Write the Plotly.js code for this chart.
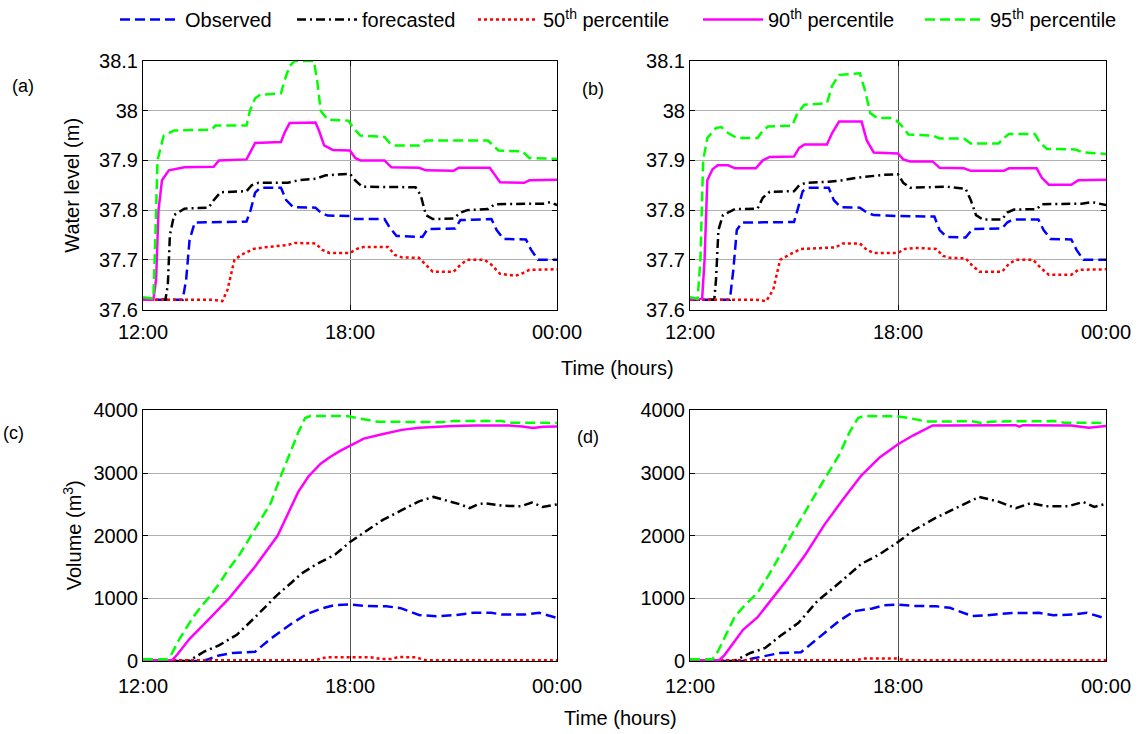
<!DOCTYPE html>
<html>
<head>
<meta charset="utf-8">
<script src="https://cdn.plot.ly/plotly-3.0.1.min.js"></script>
<style>html,body{margin:0;padding:0;background:#fff;} #chart{width:1138px;height:734px;}</style>
</head>
<body>
<div id="chart"></div>
<script>
// ---------- Tick labels ----------
const timeTickVals = [12, 18, 24];
const timeTickText = ["12:00", "18:00", "00:00"];
const levelTickVals = [37.6, 37.7, 37.8, 37.9, 38.0, 38.1];
const levelTickText = ["37.6", "37.7", "37.8", "37.9", "38", "38.1"];
const volTickVals = [0, 1000, 2000, 3000, 4000];

const seriesNames = ["Observed", "forecasted", "50<sup>th</sup> percentile", "90<sup>th</sup> percentile", "95<sup>th</sup> percentile"];

// ---------- Panel (a): water level ----------
const aObsT = [12,13.15,13.25,13.35,13.5,15.0,15.12,15.25,15.4,16.0,16.15,16.35,17.0,17.15,17.35,18.0,18.15,19.0,19.15,19.35,20.1,20.25,21.05,21.2,22.1,22.25,22.45,23.1,23.25,23.45,24];
const aObsV = [37.62,37.62,37.66,37.74,37.775,37.777,37.8,37.835,37.845,37.845,37.82,37.806,37.805,37.795,37.789,37.788,37.782,37.782,37.765,37.748,37.746,37.762,37.763,37.78,37.782,37.76,37.742,37.741,37.72,37.7,37.7];
const aFcT = [12,12.65,12.72,12.78,12.9,13.2,13.9,14.05,14.25,15.0,15.15,15.35,16.2,16.5,17.0,17.3,18.0,18.15,18.35,19.9,20.05,20.2,20.4,21.0,21.2,21.4,22.0,22.2,23.6,23.8,24];
const aFcV = [37.62,37.62,37.65,37.75,37.79,37.803,37.805,37.82,37.836,37.838,37.85,37.855,37.855,37.86,37.863,37.87,37.873,37.86,37.847,37.846,37.83,37.79,37.782,37.783,37.795,37.8,37.802,37.812,37.813,37.816,37.81];
const aP50T = [12,14.0,14.3,14.45,14.65,14.85,15.2,15.5,16.2,16.4,17.0,17.2,17.4,18.0,18.2,18.4,19.1,19.3,19.5,20.0,20.2,20.4,21.0,21.2,21.4,21.9,22.1,22.35,22.8,23.0,23.2,24];
const aP50V = [37.62,37.62,37.617,37.64,37.7,37.71,37.722,37.725,37.73,37.734,37.733,37.72,37.714,37.714,37.722,37.726,37.726,37.71,37.705,37.704,37.69,37.676,37.676,37.69,37.7,37.7,37.69,37.672,37.668,37.673,37.68,37.681];
const aP90T = [12,12.3,12.38,12.45,12.55,12.75,13.2,14.05,14.2,15.0,15.1,15.25,16.0,16.1,16.25,17.0,17.1,17.25,17.5,18.0,18.15,18.3,19.0,19.2,20.0,20.2,21.0,21.15,22.05,22.2,22.35,23.05,23.2,24];
const aP90V = [37.62,37.62,37.66,37.8,37.86,37.88,37.886,37.887,37.9,37.902,37.915,37.935,37.937,37.955,37.975,37.976,37.96,37.93,37.921,37.92,37.905,37.9,37.9,37.886,37.885,37.88,37.879,37.885,37.885,37.87,37.856,37.855,37.86,37.861];
const aP95T = [12,12.3,12.36,12.42,12.6,12.9,14.0,14.1,15.0,15.1,15.25,15.4,16.0,16.1,16.25,16.4,16.95,17.05,17.15,17.35,17.95,18.1,18.3,19.0,19.15,19.3,20.0,20.2,22.0,22.15,22.3,23.0,23.2,24];
const aP95V = [37.625,37.622,37.75,37.9,37.95,37.96,37.962,37.97,37.97,38.0,38.025,38.032,38.035,38.06,38.09,38.1,38.1,38.06,38.0,37.982,37.98,37.965,37.95,37.947,37.935,37.93,37.93,37.94,37.94,37.93,37.92,37.918,37.905,37.903];

// ---------- Panel (b): water level ----------
const bObsT = [12,13.15,13.25,13.35,13.5,15.0,15.1,15.25,15.4,16.0,16.15,16.35,16.9,17.1,17.3,18.0,19.05,19.2,19.4,19.95,20.15,21.0,21.15,21.3,22.05,22.2,22.4,23.0,23.15,23.35,24];
const bObsV = [37.62,37.62,37.68,37.76,37.775,37.776,37.8,37.838,37.845,37.845,37.82,37.806,37.805,37.795,37.79,37.788,37.787,37.76,37.746,37.745,37.762,37.763,37.775,37.781,37.781,37.76,37.742,37.741,37.72,37.7,37.7];
const bFcT = [12,12.7,12.75,12.82,12.95,13.3,13.95,14.1,14.3,15.0,15.15,15.35,16.0,16.4,16.8,17.2,17.6,18.0,18.15,18.35,19.4,19.95,20.1,20.25,20.45,21.0,21.15,21.35,22.0,22.15,23.3,23.6,24];
const bFcV = [37.62,37.62,37.66,37.76,37.79,37.802,37.803,37.825,37.837,37.838,37.85,37.855,37.857,37.86,37.865,37.868,37.871,37.872,37.855,37.845,37.847,37.843,37.82,37.79,37.781,37.781,37.795,37.801,37.802,37.812,37.813,37.816,37.81];
const bP50T = [12,13.9,14.2,14.4,14.6,14.85,15.2,16.2,16.4,16.9,17.1,17.3,18.0,18.2,18.5,19.1,19.3,19.5,19.95,20.15,20.35,21.0,21.2,21.4,21.9,22.1,22.35,23.0,23.2,24];
const bP50V = [37.62,37.62,37.617,37.64,37.7,37.71,37.722,37.725,37.733,37.733,37.72,37.714,37.714,37.722,37.724,37.722,37.708,37.704,37.703,37.688,37.676,37.676,37.692,37.7,37.7,37.685,37.67,37.67,37.68,37.681];
const bP90T = [12,12.35,12.42,12.5,12.65,12.8,13.1,13.3,13.9,14.1,14.3,15.0,15.15,15.3,15.95,16.1,16.3,16.95,17.1,17.3,18.0,18.15,18.35,19.0,19.2,19.9,20.1,21.05,21.2,22.0,22.15,22.35,23.0,23.2,24];
const bP90V = [37.62,37.622,37.7,37.86,37.882,37.89,37.89,37.884,37.884,37.9,37.907,37.908,37.925,37.932,37.932,37.955,37.978,37.978,37.94,37.916,37.914,37.902,37.898,37.898,37.885,37.884,37.879,37.879,37.884,37.884,37.865,37.851,37.851,37.86,37.861];
const bP95T = [12,12.22,12.3,12.38,12.5,12.75,12.9,13.1,13.35,13.95,14.1,14.25,14.95,15.1,15.3,15.95,16.1,16.3,16.9,17.05,17.2,17.4,17.8,17.95,18.1,18.3,19.0,19.2,19.9,20.1,20.9,21.05,21.2,21.95,22.1,22.3,23.1,23.35,24];
const bP95V = [37.625,37.622,37.7,37.9,37.945,37.965,37.967,37.955,37.945,37.945,37.96,37.968,37.97,37.995,38.012,38.015,38.05,38.072,38.075,38.04,37.995,37.985,37.985,37.98,37.97,37.952,37.95,37.944,37.944,37.934,37.934,37.945,37.953,37.953,37.935,37.923,37.922,37.916,37.913];

// ---------- Panel (c): volume ----------
const cObsT = [12,13.7,13.9,14.2,14.6,15.25,15.67,16.3,16.73,17.15,17.57,18.0,18.4,19.05,19.47,20.0,20.5,21.05,21.58,22.1,22.42,23.05,23.48,24];
const cObsV = [0,0,30,90,130,150,345,595,745,835,895,905,880,875,845,735,715,735,770,770,742,742,770,690];
const cFcT = [12,13.3,13.5,13.77,14.2,14.72,15.25,15.88,16.3,16.6,17.04,17.57,18.0,18.41,18.94,19.47,20.0,20.42,20.84,21.2,21.47,21.7,21.9,22.42,22.95,23.27,23.58,24];
const cFcV = [0,0,60,150,250,420,700,1050,1250,1400,1550,1700,1900,2050,2250,2400,2550,2620,2550,2500,2440,2500,2520,2480,2470,2530,2460,2500];
const cP50T = [12,17.0,17.3,18.6,18.9,19.2,19.4,19.9,20.2,24];
const cP50V = [15,15,60,60,35,35,65,60,15,15];
const cP90T = [12,12.85,13.0,13.35,13.9,14.5,15.25,15.9,16.5,16.8,17.15,17.4,17.7,18.0,18.4,18.9,19.5,20.0,20.5,21.0,21.6,22.6,23.0,23.3,23.6,24];
const cP90V = [15,15,110,355,660,1005,1510,2000,2700,2950,3150,3250,3350,3440,3550,3615,3690,3725,3740,3750,3760,3760,3745,3720,3740,3745];
const cP95T = [12,12.7,12.8,13.0,13.2,13.45,13.7,13.9,14.2,14.5,14.8,15.1,15.4,15.7,16.0,16.25,16.5,16.7,16.85,17.9,18.2,18.5,18.8,20.3,20.6,21.0,22.4,22.6,24];
const cP95V = [30,30,80,300,480,700,880,1010,1230,1480,1700,1980,2250,2520,2960,3300,3650,3880,3910,3910,3880,3840,3820,3815,3810,3830,3830,3805,3800];

// ---------- Panel (d): volume ----------
const dObsT = [12,13.5,13.8,14.2,14.6,15.2,15.66,16.3,16.73,17.26,17.58,18.0,18.5,19.1,19.5,20.14,20.57,21.2,22.06,22.48,23.1,23.45,24];
const dObsV = [0,0,40,80,130,140,345,640,795,840,890,900,880,875,850,718,730,765,770,732,745,770,680];
const dFcT = [12,13.25,13.45,13.74,14.17,14.6,15.13,15.66,16.3,16.94,17.47,18.0,18.43,19.07,19.7,20.34,20.87,21.4,21.83,22.27,22.91,23.34,23.66,24];
const dFcV = [0,0,50,130,210,400,610,950,1245,1550,1705,1900,2080,2280,2450,2620,2550,2440,2520,2470,2470,2540,2460,2510];
const dP50T = [12,16.8,17.0,18.0,18.2,24];
const dP50V = [15,15,40,40,15,15];
const dP90T = [12,12.85,13.0,13.53,13.95,14.38,14.8,15.34,15.87,16.4,16.94,17.47,18.0,18.43,18.86,19.0,21.4,21.5,21.6,23.0,23.5,24];
const dP90V = [15,15,100,500,700,1000,1300,1710,2170,2570,2960,3250,3460,3600,3720,3760,3765,3740,3765,3760,3725,3750];
const dP95T = [12,12.65,12.8,13.0,13.3,13.6,13.95,14.3,14.6,15.0,15.66,16.3,16.6,16.85,17.0,18.0,18.4,18.8,19.5,20.1,20.4,20.8,22.5,22.8,24];
const dP95V = [30,30,150,380,720,900,1090,1400,1700,2080,2700,3290,3650,3880,3910,3905,3870,3825,3825,3830,3800,3825,3830,3805,3800];

// ---------- Styles ----------
const styles = [
  {color: "#0000FF", width: 2.5, dash: "10px,5px"},
  {color: "#000000", width: 2.5, dash: "9px,4px,2px,4px"},
  {color: "#FF0000", width: 2.5, dash: "3px,3px"},
  {color: "#FF00FF", width: 2.5, dash: "solid"},
  {color: "#00FF00", width: 2.5, dash: "10px,5px"}
];
const legendIds = ["legend", "legend2", "legend3", "legend4", "legend5"];
const legendTextX = [186, 363, 544, 769, 991];

const panels = [
  {xa: "x",  ya: "y",  data: [[aObsT,aObsV],[aFcT,aFcV],[aP50T,aP50V],[aP90T,aP90V],[aP95T,aP95V]]},
  {xa: "x2", ya: "y2", data: [[bObsT,bObsV],[bFcT,bFcV],[bP50T,bP50V],[bP90T,bP90V],[bP95T,bP95V]]},
  {xa: "x3", ya: "y3", data: [[cObsT,cObsV],[cFcT,cFcV],[cP50T,cP50V],[cP90T,cP90V],[cP95T,cP95V]]},
  {xa: "x4", ya: "y4", data: [[dObsT,dObsV],[dFcT,dFcV],[dP50T,dP50V],[dP90T,dP90V],[dP95T,dP95V]]}
];

const traces = [];
panels.forEach((p, pi) => {
  p.data.forEach((d, si) => {
    traces.push({
      type: "scatter", mode: "lines",
      x: d[0], y: d[1],
      xaxis: p.xa, yaxis: p.ya,
      name: seriesNames[si],
      legend: legendIds[si],
      showlegend: pi === 0,
      line: Object.assign({}, styles[si]),
      hoverinfo: "skip"
    });
  });
});

const W = 1138, H = 734;
const fontFam = "Liberation Sans, Arial, sans-serif";
function xAx(l, r, anchor, standoff) {
  return {
    domain: [l / W, r / W], anchor: anchor, range: [12, 24],
    tickvals: timeTickVals, ticktext: timeTickText,
    ticks: "inside", ticklen: 5, tickcolor: "#000", ticklabelstandoff: standoff,
    showline: true, linecolor: "#000", linewidth: 1, mirror: "ticks",
    showgrid: true, gridcolor: "#555", gridwidth: 1,
    zeroline: false, tickfont: {size: 20, color: "#000"}, automargin: false
  };
}
function yAx(t, b, anchor, range, vals, text) {
  const ax = {
    domain: [1 - b / H, 1 - t / H], anchor: anchor, range: range,
    tickvals: vals,
    ticks: "inside", ticklen: 5, tickcolor: "#000",
    showline: true, linecolor: "#000", linewidth: 1, mirror: "ticks",
    showgrid: true, gridcolor: "#b0b0b0", gridwidth: 1,
    zeroline: false, tickfont: {size: 20, color: "#000"}, automargin: false
  };
  if (text) ax.ticktext = text;
  return ax;
}

const layout = {
  width: W, height: H,
  margin: {l: 0, r: 0, t: 0, b: 0},
  paper_bgcolor: "#fff", plot_bgcolor: "#fff",
  font: {family: fontFam, size: 20, color: "#000"},
  showlegend: true,
  xaxis:  xAx(143, 557, "y", 4),
  yaxis:  yAx(60, 309, "x", [37.6, 38.1], levelTickVals, levelTickText),
  xaxis2: xAx(690, 1106, "y2", 4),
  yaxis2: yAx(60, 309, "x2", [37.6, 38.1], levelTickVals, levelTickText),
  xaxis3: xAx(143, 557, "y3", 7),
  yaxis3: yAx(410, 661, "x3", [0, 4000], volTickVals),
  xaxis4: xAx(690, 1106, "y4", 7),
  yaxis4: yAx(410, 661, "x4", [0, 4000], volTickVals),
  annotations: [
    {text: "Time (hours)", xref: "paper", yref: "paper", x: 617 / W, y: 1 - 368 / H, showarrow: false, font: {size: 20}, xanchor: "center", yanchor: "middle"},
    {text: "Time (hours)", xref: "paper", yref: "paper", x: 620 / W, y: 1 - 718 / H, showarrow: false, font: {size: 20}, xanchor: "center", yanchor: "middle"},
    {text: "Water level (m)", xref: "paper", yref: "paper", x: 72 / W, y: 1 - 185 / H, showarrow: false, textangle: -90, font: {size: 20}, xanchor: "center", yanchor: "middle"},
    {text: "Volume (m<sup>3</sup>)", xref: "paper", yref: "paper", x: 72 / W, y: 1 - 535 / H, showarrow: false, textangle: -90, font: {size: 20}, xanchor: "center", yanchor: "middle"},
    {text: "(a)", xref: "paper", yref: "paper", x: 23 / W, y: 1 - 85 / H, showarrow: false, font: {size: 18}, xanchor: "center", yanchor: "middle"},
    {text: "(b)", xref: "paper", yref: "paper", x: 593 / W, y: 1 - 88 / H, showarrow: false, font: {size: 18}, xanchor: "center", yanchor: "middle"},
    {text: "(c)", xref: "paper", yref: "paper", x: 13 / W, y: 1 - 433 / H, showarrow: false, font: {size: 18}, xanchor: "center", yanchor: "middle"},
    {text: "(d)", xref: "paper", yref: "paper", x: 588 / W, y: 1 - 437 / H, showarrow: false, font: {size: 18}, xanchor: "center", yanchor: "middle"}
  ]
};
legendIds.forEach((id, i) => {
  layout[id] = {
    orientation: "h", x: (legendTextX[i] - 71) / W, y: 1 - 19 / H,
    xanchor: "left", yanchor: "middle",
    font: {size: 20, color: "#000"}, bgcolor: "rgba(0,0,0,0)", itemwidth: 60
  };
});

Plotly.newPlot("chart", traces, layout, {staticPlot: true, displayModeBar: false});
</script>
</body>
</html>
